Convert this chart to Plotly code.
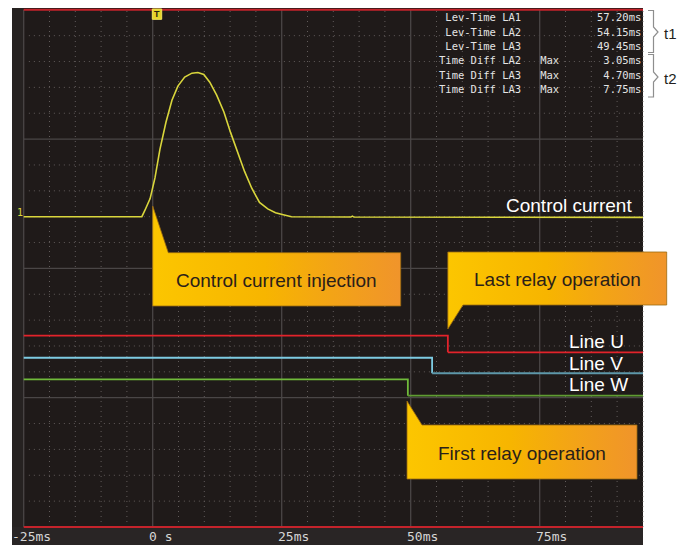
import plotly.graph_objects as go

# ---------------- data ----------------
# Control current trace: time (ms) and level (divisions above the bottom graticule line)
pulse_time_ms = [-25.0, -2.1, -1.5, -0.5, 0.44, 1.4, 2.57, 3.73, 4.88, 6.2, 7.6, 8.75,
                 9.9, 11.06, 12.4, 13.8, 15.1, 16.5, 17.8, 19.2, 20.7, 22.3, 23.8,
                 25.3, 26.9, 38.4, 38.7, 39.0, 95.0]
pulse_level_div = [2.400, 2.400, 2.450, 2.540, 2.700, 2.920, 3.130, 3.300, 3.410, 3.480,
                   3.510, 3.515, 3.500, 3.440, 3.340, 3.210, 3.050, 2.900, 2.750, 2.620,
                   2.510, 2.460, 2.430, 2.415, 2.400, 2.397, 2.404, 2.397, 2.395]

# Relay lines: operation time (ms) and levels before / after (divisions)
line_names = ["Line U", "Line V", "Line W"]
relay_time_ms = [57.20, 54.15, 49.45]
level_before_div = [1.480, 1.309, 1.142]
level_after_div = [1.351, 1.189, 1.016]

# Measurement read-out block
readout_labels = ["Lev-Time LA1", "Lev-Time LA2", "Lev-Time LA3",
                  "Time Diff LA2", "Time Diff LA3", "Time Diff LA3"]
readout_modes = ["", "", "", "Max", "Max", "Max"]
readout_values = ["57.20ms", "54.15ms", "49.45ms", "3.05ms", "4.70ms", "7.75ms"]

# Time axis ticks
tick_ms = [-25, 0, 25, 50, 75]
tick_labels = ["-25ms", "0 s", "25ms", "50ms", "75ms"]

# ---------------- screen geometry ----------------
PX_PER_MS = 5.16
X0_PX = 152.7          # screen pixel of 0 ms
PX_PER_DIV = 129.3
Y0_PX = 527.0          # screen pixel of bottom graticule line
W, H = 685, 545
PAGE_OFFSET = 8        # default page margin in front of the figure


def X(px):
    return (px - X0_PX) / PX_PER_MS


def Y(py):
    return (Y0_PX - py) / PX_PER_DIV


T_START = -25.0
T_END = X(643)
T_EDGE = X(12)
DIV_TOP = 4.0

# colours
BG = "#1f1a19"
STRIP = "#262221"
BAND = "#292525"
MAJOR = "#4a4646"
MINOR = "#615b5a"
RED = "#c4232b"
YELLOW = "#d9d63c"
col_before = ["#e2232b", "#7dcbe2", "#70ba3b"]
col_after = ["#e2232b", "#5e98aa", "#5f9c33"]
TXT = "#e4e4e4"

fig = go.Figure()
shapes = []

# dark screen background
shapes.append(dict(type="rect", xref="x", yref="y", x0=T_EDGE, x1=T_END, y0=Y(H + 10), y1=Y(7),
                   fillcolor=BG, line_width=0, layer="below"))
shapes.append(dict(type="rect", xref="x", yref="y", x0=T_EDGE, x1=T_START, y0=Y(H + 10), y1=Y(7),
                   fillcolor=STRIP, line_width=0, layer="below"))
shapes.append(dict(type="rect", xref="x", yref="y", x0=T_EDGE, x1=T_END, y0=Y(H + 10), y1=0,
                   fillcolor=BAND, line_width=0, layer="below"))

# minor dotted graticule
t = -25.0
while t < T_END:
    if abs(t / 25 - round(t / 25)) > 1e-6:
        shapes.append(dict(type="line", xref="x", yref="y", x0=t, x1=t, y0=0, y1=DIV_TOP,
                           line=dict(color=MINOR, width=1, dash="1px,4px"), layer="below"))
    t += 5.0
for k in range(1, 20):
    d = k * 0.2
    if k % 5:
        shapes.append(dict(type="line", xref="x", yref="y", x0=T_START + 1.0, x1=T_END, y0=d, y1=d,
                           line=dict(color=MINOR, width=1, dash="1px,4px"), layer="below"))

# major graticule
for tm in [-25, 0, 25, 50, 75]:
    shapes.append(dict(type="line", xref="x", yref="y", x0=tm, x1=tm, y0=0, y1=DIV_TOP,
                       line=dict(color=MAJOR, width=1.3), layer="below"))
for d in [1, 2, 3]:
    shapes.append(dict(type="line", xref="x", yref="y", x0=T_START, x1=T_END, y0=d, y1=d,
                       line=dict(color=MAJOR, width=1.3), layer="below"))

# red frame lines top and bottom
for d in [0.0, DIV_TOP]:
    shapes.append(dict(type="line", xref="x", yref="y", x0=T_START, x1=T_END, y0=d, y1=d,
                       line=dict(color=RED, width=2), layer="below"))

# trigger marker box
shapes.append(dict(type="rect", xref="x", yref="y", x0=X(152.3), x1=X(161.7), y0=Y(19.3), y1=Y(9),
                   fillcolor="#e6d52a", line=dict(color="#f2e65a", width=1)))

# ---------------- signal traces ----------------
fig.add_trace(go.Scatter(x=pulse_time_ms, y=pulse_level_div, mode="lines",
                         line=dict(color=YELLOW, width=1.6), hoverinfo="skip"))

for i, name in enumerate(line_names):
    tr = relay_time_ms[i]
    fig.add_trace(go.Scatter(x=[T_START, tr, tr], y=[level_before_div[i], level_before_div[i], level_after_div[i]],
                             mode="lines", line=dict(color=col_before[i], width=1.8), hoverinfo="skip"))
    fig.add_trace(go.Scatter(x=[tr, T_END], y=[level_after_div[i], level_after_div[i]],
                             mode="lines", line=dict(color=col_after[i], width=1.8), hoverinfo="skip"))

# ---------------- callouts ----------------
grad = dict(type="horizontal",
            colorscale=[[0, "#fcc600"], [0.45, "#f7b500"], [0.72, "#f3a416"], [1, "#f0942b"]])


def callout(xs, ys):
    fig.add_trace(go.Scatter(x=xs, y=ys, mode="lines", fill="toself", fillgradient=grad,
                             line=dict(color="#9a6a10", width=0.8), hoverinfo="skip"))


# Control current injection (pointer up-left)
l, r, tp, bt = 0.0, X(400.7), Y(252.7), Y(306)
callout([l, l, X(168.3), r, r, l], [bt, Y(206), tp, tp, bt, bt])
# Last relay operation (pointer down-left)
l, r, tp, bt = relay_time_ms[0], X(666.7), Y(252), Y(305)
callout([l, r, r, X(463), l, l], [tp, tp, bt, bt, Y(329), tp])
# First relay operation (pointer up-left)
l, r, tp, bt = X(407), X(637), Y(425), Y(479)
callout([l, l, X(422), r, r, l], [bt, Y(401), tp, tp, bt, bt])

# braces t1 / t2
for top, mid, bot in [(10.5, 32, 52.5), (54.5, 77, 97)]:
    bx = [X(648), X(653.5), X(653.5), X(658), X(653.5), X(653.5), X(648)]
    by = [Y(top), Y(top), Y(mid - 5), Y(mid), Y(mid + 5), Y(bot), Y(bot)]
    fig.add_trace(go.Scatter(x=bx, y=by, mode="lines", line=dict(color="#8e8e8e", width=1.2),
                             hoverinfo="skip"))

# ---------------- text ----------------
ann = []
SANS = "Liberation Sans, Arial, sans-serif"
MONO = "DejaVu Sans Mono, monospace"

ann.append(dict(x=X(504), y=Y(205), text="Control current", xanchor="left", yanchor="middle",
                font=dict(family=SANS, size=19, color="#ffffff"), showarrow=False))
for name, py in zip(line_names, [341, 363, 384.5]):
    ann.append(dict(x=X(567), y=Y(py), text=name, xanchor="left", yanchor="middle",
                    font=dict(family=SANS, size=19, color="#ffffff"), showarrow=False))

ann.append(dict(x=(0 + X(400.7)) / 2, y=Y(280), text="Control current injection", xanchor="center",
                yanchor="middle", font=dict(family=SANS, size=19, color="#2a2019"), showarrow=False))
ann.append(dict(x=(relay_time_ms[0] + X(666.7)) / 2, y=Y(279), text="Last relay operation",
                xanchor="center", yanchor="middle", font=dict(family=SANS, size=19, color="#2a2019"),
                showarrow=False))
ann.append(dict(x=(X(407) + X(637)) / 2, y=Y(453), text="First relay operation", xanchor="center",
                yanchor="middle", font=dict(family=SANS, size=19, color="#2a2019"), showarrow=False))

# read-out block
NB = "\u00a0"
for i, py in enumerate([17, 31.5, 45.5, 60, 74.5, 88.5]):
    row = f"{readout_labels[i]:>13}   {readout_modes[i]:<3}{readout_values[i]:>13}".replace(" ", NB)
    ann.append(dict(x=X(437.5), y=Y(py), text=row, xanchor="left", yanchor="middle",
                    font=dict(family=MONO, size=10.5, color=TXT), showarrow=False, borderpad=0))

# t1 / t2 labels
for txt, py in [("t1", 33), ("t2", 78)]:
    ann.append(dict(x=X(662), y=Y(py), text=txt, xanchor="left", yanchor="middle",
                    font=dict(family=SANS, size=15, color="#231f20"), showarrow=False))

# time tick labels
for tm, lab in zip(tick_ms, tick_labels):
    px = X0_PX + tm * PX_PER_MS - 5 - (8 if lab.startswith("-") else 0)
    ann.append(dict(x=X(px), y=Y(536.5), text=lab, xanchor="left", yanchor="middle",
                    font=dict(family=MONO, size=13, color="#d6d6d6"), showarrow=False, borderpad=0))

# channel marker "1" and trigger "T"
ann.append(dict(x=X(20), y=Y(212.5), text="1", xanchor="center", yanchor="middle",
                font=dict(family=MONO, size=10, color=YELLOW), showarrow=False, borderpad=0))
ann.append(dict(x=X(157), y=Y(14.2), text="<b>T</b>", xanchor="center", yanchor="middle",
                font=dict(family=SANS, size=9, color="#2a2410"), showarrow=False, borderpad=0))

# axis ranges cover the visible window (figure is drawn PAGE_OFFSET px right/down on the page)
fig.update_layout(
    width=W, height=H,
    margin=dict(l=0, r=0, t=0, b=0),
    paper_bgcolor="#ffffff", plot_bgcolor="#ffffff",
    showlegend=False,
    shapes=shapes, annotations=ann,
    xaxis=dict(range=[X(PAGE_OFFSET), X(W + PAGE_OFFSET)], visible=False, fixedrange=True),
    yaxis=dict(range=[Y(H + PAGE_OFFSET), Y(PAGE_OFFSET)], visible=False, fixedrange=True),
)

fig.write_html("out.html", config={"displayModeBar": False})
